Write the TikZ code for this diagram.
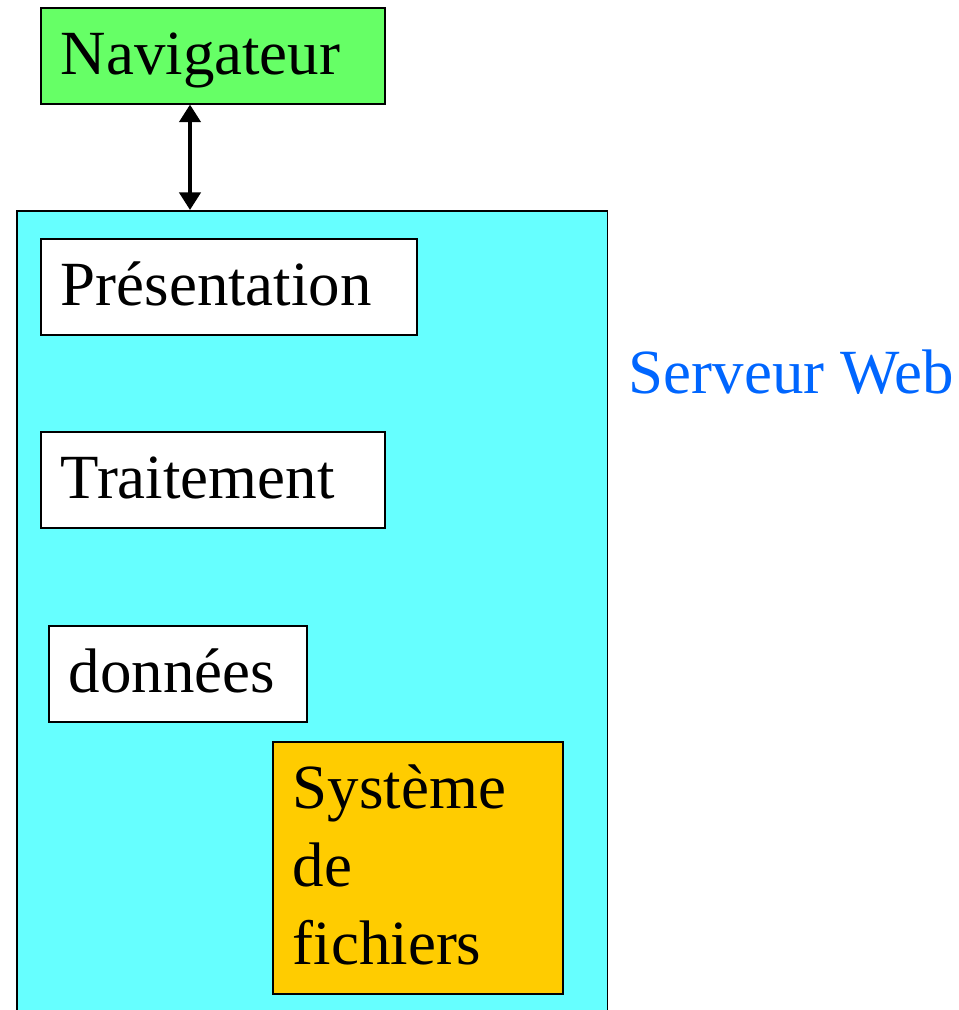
\documentclass[tikz,border=0pt]{standalone}
\usepackage{fontspec}
\setmainfont{Liberation Serif}
\usetikzlibrary{arrows.meta}
\definecolor{navgreen}{HTML}{66FF66}
\definecolor{srvcyan}{HTML}{66FFFF}
\definecolor{fsorange}{HTML}{FFCC00}
\definecolor{srvblue}{HTML}{0066FF}
\begin{document}
\begin{tikzpicture}[x=0.02cm, y=-0.02cm, line width=0.9pt]

    \tikzset{block/.style={%
      draw,%
      rectangle,%
      fill=white,%
      anchor=north west,%
      align=left,%
      inner xsep=0.4cm,%
      inner ysep=0pt,%
      text height=1.34cm,%
      text depth=0.58cm,%
      font=\fontsize{35.8pt}{44.4pt}\selectfont}%
    };

    \tikzset{bigblock/.style={block, text depth=3.7cm}};

    \useasboundingbox (0,0) rectangle (959,1010);
    \clip (0,0) rectangle (959,1010);

    %%%%%%%%%%%
    % serveur %
    %%%%%%%%%%%
    \node [draw, fill=srvcyan, anchor=north west, minimum width=11.82cm,
      minimum height=16.4cm, inner sep=0pt] (serveur) at (16,210) {};

    \node [block, fill=navgreen, text width=6.08cm] (nav) at (40,7) {Navigateur};

    \node [block, text width=6.72cm] (pres) at (40,238) {Présentation};

    \node [block, text width=6.08cm] (trait) at (40,431) {Traitement};

    \node [block, text width=4.36cm] (donn) at (48,625) {données};

    \node [bigblock, fill=fsorange, text width=5.0cm] (fs) at (272,741)
      {Système\\de\\fichiers};

    \node [anchor=base west, inner sep=0pt, text=srvblue,
      font=\fontsize{35.8pt}{44.4pt}\selectfont] (srvlabel) at (628,393) {Serveur Web};

    \coordinate (link) at (190,0);
    \draw [line width=2.2pt, {Triangle[length=10pt,width=12pt]}-{Triangle[length=10pt,width=12pt]}]
      (nav.south -| link) -- (serveur.north -| link);

  \end{tikzpicture}
\end{document}
